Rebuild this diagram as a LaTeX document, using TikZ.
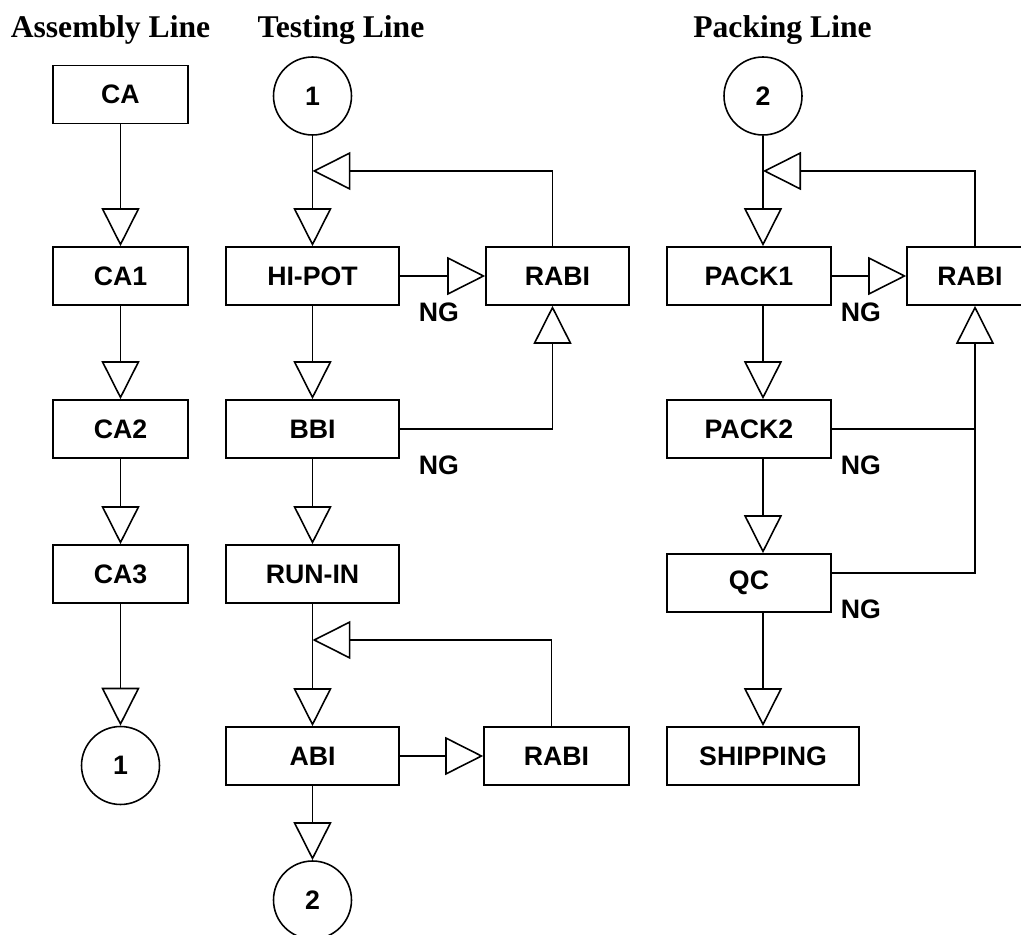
\documentclass[tikz,border=0pt]{standalone}
\usepackage{fontspec}
\setmainfont{Liberation Serif}
\newfontfamily\boxfont{Liberation Sans}
\usetikzlibrary{arrows.meta}

\begin{document}
\begin{tikzpicture}[x=0.02cm, y=-0.02cm, line width=0.9pt,
	every node/.style={font=\boxfont\bfseries\fontsize{15.2}{18}\selectfont, inner sep=0pt},
	box/.style={draw, rectangle, minimum height=1.16cm},
	link/.style={draw, circle, minimum size=1.56cm},
	title/.style={font=\bfseries\fontsize{18}{22}\selectfont, anchor=base},
	ng/.style={anchor=west},
	>={Triangle[open, length=0.76cm, width=0.76cm]}]
	\useasboundingbox (0,0) rectangle (1021,935);
	\node[title] (tasm) at (110.5,38) {Assembly Line};
	\node[title] (ttest) at (341,38) {Testing Line};
	\node[title] (tpack) at (782.5,38) {Packing Line};
	\node[box, minimum width=2.7cm] (ca) at (120.5,94.5) {CA};
	\node[box, minimum width=2.7cm] (ca1) at (120.5,276) {CA1};
	\node[box, minimum width=2.7cm] (ca2) at (120.5,429) {CA2};
	\node[box, minimum width=2.7cm] (ca3) at (120.5,574) {CA3};
	\node[link] (c1b) at (120.5,765.5) {1};
	\draw[->] (ca) -- (ca1);
	\draw[->] (ca1) -- (ca2);
	\draw[->] (ca2) -- (ca3);
	\draw[->] (ca3) -- (c1b);
	\node[link] (c1t) at (312.5,96) {1};
	\node[box, minimum width=3.46cm] (hipot) at (312.5,276) {HI-POT};
	\node[box, minimum width=2.86cm] (rabi1) at (557.5,276) {RABI};
	\node[box, minimum width=3.46cm] (bbi) at (312.5,429) {BBI};
	\node[box, minimum width=3.46cm] (runin) at (312.5,574) {RUN-IN};
	\node[box, minimum width=3.46cm] (abi) at (312.5,756) {ABI};
	\node[box, minimum width=2.9cm] (rabi3) at (556.5,756) {RABI};
	\node[link] (c2b) at (312.5,900) {2};
	\node[ng] (ng1) at (418,312) {NG};
	\node[ng] (ng2) at (418,465) {NG};
	\coordinate (fb1) at (0,171);
	\coordinate (fb3) at (0,640);
	\coordinate (r1s) at ([xshift=-0.1cm]rabi1.south);
	\draw[->] (c1t) -- (c1t |- hipot.north);
	\draw[->] ([xshift=-0.1cm]rabi1.north) |- (c1t |- fb1);
	\draw[->] (hipot) -- (rabi1);
	\draw[->] (hipot) -- (bbi);
	\draw[->] (bbi.east) -| (r1s);
	\draw[->] (bbi) -- (runin);
	\draw[->] (runin) -- (abi);
	\draw[->] ([xshift=-0.1cm]rabi3.north) |- (runin.south |- fb3);
	\draw[->] (abi) -- (rabi3);
	\draw[->] (abi) -- (c2b);
	\node[link] (c2t) at (763,96) {2};
	\node[box, minimum width=3.28cm] (pack1) at (749,276) {PACK1};
	\node[box, minimum width=2.52cm] (rabi2) at (970,276) {RABI};
	\node[box, minimum width=3.28cm] (pack2) at (749,429) {PACK2};
	\node[box, minimum width=3.28cm] (qc) at (749,583) {QC};
	\node[box, minimum width=3.84cm] (ship) at (763,756) {SHIPPING};
	\node[ng] (ng3) at (840,312) {NG};
	\node[ng] (ng4) at (840,465) {NG};
	\node[ng] (ng5) at (840,609) {NG};
	\coordinate (r2s) at ([xshift=0.1cm]rabi2.south);
	\draw[->] (c2t) -- (c2t |- pack1.north);
	\draw[->] ([xshift=0.1cm]rabi2.north) |- (c2t |- fb1);
	\draw[->] (pack1) -- (rabi2);
	\draw[->] (c2t |- pack1.south) -- (c2t |- pack2.north);
	\draw[->] (c2t |- pack2.south) -- (c2t |- qc.north);
	\draw[->] (c2t |- qc.south) -- (ship);
	\draw (pack2.east) -- (pack2.east -| r2s);
	\draw[->] ([yshift=0.2cm]qc.east) -| (r2s);
\end{tikzpicture}
\end{document}
